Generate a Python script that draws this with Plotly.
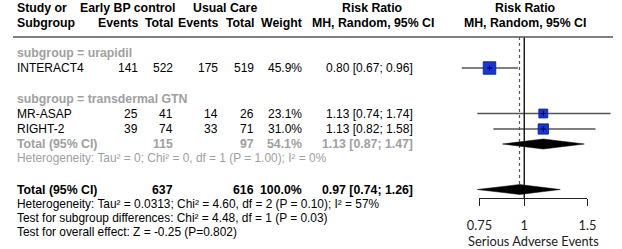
import math
import plotly.graph_objects as go

# ---------------- data ----------------
studies = ["INTERACT4", "MR-ASAP", "RIGHT-2"]
subgroups = ["urapidil", "transdermal GTN", "transdermal GTN"]
e_events = [141, 25, 39]
e_total = [522, 41, 74]
c_events = [175, 14, 33]
c_total = [519, 26, 71]
weight = [45.9, 23.1, 31.0]
rr = [0.80, 1.13, 1.13]
rr_lo = [0.67, 0.74, 0.82]
rr_hi = [0.96, 1.74, 1.58]

sub_name = "transdermal GTN"
sub_e_total = 115
sub_c_total = 97
sub_weight = 54.1
sub_rr = [1.13, 0.87, 1.47]
sub_het = "Heterogeneity: Tau² = 0; Chi² = 0, df = 1 (P = 1.00); I² = 0%"

tot_e_total = 637
tot_c_total = 616
tot_weight = 100.0
tot_rr = [0.97, 0.74, 1.26]
tot_het = "Heterogeneity: Tau² = 0.0313; Chi² = 4.60, df = 2 (P = 0.10); I² = 57%"
test_sub = "Test for subgroup differences: Chi² = 4.48, df = 1 (P = 0.03)"
test_all = "Test for overall effect: Z = -0.25 (P=0.802)"

tick_vals = [0.75, 1, 1.5]
tick_text = ["0.75", "1", "1.5"]
axis_title = "Serious Adverse Events"

# ---------------- layout (pixel rows) ----------------
W, H = 622, 249
ROW = {"h1": 8, "h2": 23, "rule": 37, "sg1": 53, "s0": 68, "sg2": 98.5,
       "s1": 113.5, "s2": 129, "subtot": 144, "subhet": 158,
       "tot": 189.5, "het": 204, "tsub": 218, "tall": 232}
study_rows = [ROW["s0"], ROW["s1"], ROW["s2"]]
AXIS_Y = 198
PX_PER_LN = 161.5
X_ONE = 530

FONT = "Liberation Sans, Arial, sans-serif"
FS = 12.0
FSB = 12.3
FSS = 11.9
AXFONT = "Lato, Open Sans, sans-serif"
GRAY = "#a0a0a0"
BLACK = "#000000"

fig = go.Figure()

# CI lines
for r, lo, hi in zip(study_rows, rr_lo, rr_hi):
    fig.add_trace(go.Scatter(x=[lo, hi], y=[r, r], mode="lines",
                             line=dict(color="#555555", width=1.4),
                             hoverinfo="skip", showlegend=False))

# reference lines
fig.add_trace(go.Scatter(x=[1, 1], y=[ROW["rule"], AXIS_Y], mode="lines",
                         line=dict(color="#111111", width=1.4),
                         hoverinfo="skip", showlegend=False))
fig.add_trace(go.Scatter(x=[tot_rr[0], tot_rr[0]], y=[ROW["rule"], AXIS_Y - 4], mode="lines",
                         line=dict(color="#555555", width=1.2, dash="dot"),
                         hoverinfo="skip", showlegend=False))

# squares
fig.add_trace(go.Scatter(x=rr, y=study_rows, mode="markers",
                         marker=dict(symbol="square", size=[1.85 * math.sqrt(w) for w in weight],
                                     color="#1535dc", opacity=1,
                                     line=dict(color="#0a1a70", width=0.8)),
                         hoverinfo="skip", showlegend=False))
fig.add_trace(go.Scatter(x=rr, y=study_rows, mode="markers",
                         marker=dict(symbol="cross-thin", size=4, opacity=1,
                                     line=dict(color="#000033", width=1)),
                         hoverinfo="skip", showlegend=False))

# diamonds
def diamond(est, lo, hi, y, hh=5):
    fig.add_trace(go.Scatter(x=[lo, est, hi, est, lo], y=[y, y - hh, y, y + hh, y],
                             mode="lines", fill="toself", fillcolor="#000000",
                             line=dict(color="#000000", width=0.5),
                             hoverinfo="skip", showlegend=False))

diamond(sub_rr[0], sub_rr[1], sub_rr[2], ROW["subtot"])
diamond(tot_rr[0], tot_rr[1], tot_rr[2], ROW["tot"])

# invisible trace on the bottom scale axis (own subplot x3/y2)
fig.add_trace(go.Scatter(x=[tick_vals[0], tick_vals[-1]], y=[0, 0], xaxis="x3", yaxis="y2",
                         mode="markers", marker=dict(opacity=0), hoverinfo="skip",
                         showlegend=False))

# rule
fig.add_shape(type="line", xref="paper", yref="y", x0=0, x1=1, y0=ROW["rule"], y1=ROW["rule"],
              line=dict(color="#555555", width=1.4))

ann = []
def txt(x, y, s, align="left", color=BLACK, bold=False, size=None, family=FONT):
    if size is None:
        size = FSB if bold else FS
    if bold:
        s = "<b>" + s + "</b>"
    ann.append(dict(x=x / W, y=y, xref="paper", yref="y", text=s, showarrow=False,
                    xanchor=align, yanchor="middle", align=align,
                    font=dict(family=family, size=size, color=color)))

# headers
txt(2, ROW["h1"], "Study or", bold=True)
txt(2, ROW["h2"], "Subgroup", bold=True)
txt(119, ROW["h1"], "Early BP control", "center", bold=True)
txt(220, ROW["h1"], "Usual Care", "center", bold=True)
txt(132, ROW["h2"], "Events", "right", bold=True)
txt(168, ROW["h2"], "Total", "right", bold=True)
txt(215, ROW["h2"], "Events", "right", bold=True)
txt(252, ROW["h2"], "Total", "right", bold=True)
txt(302, ROW["h2"], "Weight", "right", bold=True)
txt(373, ROW["h1"], "Risk Ratio", "center", bold=True)
txt(373, ROW["h2"], "MH, Random, 95% CI", "center", bold=True)
txt(531, ROW["h1"], "Risk Ratio", "center", bold=True)
txt(531, ROW["h2"], "MH, Random, 95% CI", "center", bold=True)

# subgroup labels
txt(2, ROW["sg1"], "subgroup = " + subgroups[0], color=GRAY, bold=True)
txt(2, ROW["sg2"], "subgroup = " + sub_name, color=GRAY, bold=True)

# studies
for i, r in enumerate(study_rows):
    txt(2, r, studies[i])
    txt(132, r, str(e_events[i]), "right")
    txt(168, r, str(e_total[i]), "right")
    txt(215, r, str(c_events[i]), "right")
    txt(252, r, str(c_total[i]), "right")
    txt(302, r, f"{weight[i]:.1f}%", "right")
    txt(417, r, f"{rr[i]:.2f} [{rr_lo[i]:.2f}; {rr_hi[i]:.2f}]", "right")

# subgroup total
r = ROW["subtot"]
txt(2, r, "Total (95% CI)", color=GRAY, bold=True)
txt(168, r, str(sub_e_total), "right", color=GRAY, bold=True)
txt(252, r, str(sub_c_total), "right", color=GRAY, bold=True)
txt(302, r, f"{sub_weight:.1f}%", "right", color=GRAY, bold=True)
txt(417, r, f"{sub_rr[0]:.2f} [{sub_rr[1]:.2f}; {sub_rr[2]:.2f}]", "right", color=GRAY, bold=True)
txt(2, ROW["subhet"], sub_het, color=GRAY, size=FSS)

# overall
r = ROW["tot"]
txt(2, r, "Total (95% CI)", bold=True)
txt(168, r, str(tot_e_total), "right", bold=True)
txt(252, r, str(tot_c_total), "right", bold=True)
txt(302, r, f"{tot_weight:.1f}%", "right", bold=True)
txt(417, r, f"{tot_rr[0]:.2f} [{tot_rr[1]:.2f}; {tot_rr[2]:.2f}]", "right", bold=True)
txt(2, ROW["het"], tot_het, size=FSS)
txt(2, ROW["tsub"], test_sub, size=FSS)
txt(2, ROW["tall"], test_all, size=FSS)

lo_px = X_ONE + PX_PER_LN * math.log(tick_vals[0])
hi_px = X_ONE + PX_PER_LN * math.log(tick_vals[-1])
x_left_log10 = -X_ONE / (PX_PER_LN * math.log(10))
x_right_log10 = (W - X_ONE) / (PX_PER_LN * math.log(10))
axis_pos = 1 - AXIS_Y / H

fig.update_layout(
    width=W, height=H, margin=dict(l=0, r=0, t=0, b=0),
    paper_bgcolor="white", plot_bgcolor="rgba(0,0,0,0)",
    annotations=ann,
    xaxis=dict(type="log", range=[x_left_log10, x_right_log10], domain=[0, 1],
               visible=False, fixedrange=True),
    yaxis=dict(range=[H, 0], domain=[0, 1], visible=False, fixedrange=True),
    yaxis2=dict(domain=[axis_pos, axis_pos + 0.05], anchor="x3", visible=False,
                range=[0, 1], fixedrange=True),
    xaxis3=dict(type="log", range=[math.log10(tick_vals[0]), math.log10(tick_vals[-1])],
                domain=[lo_px / W, hi_px / W], anchor="y2",
                showline=True, linecolor="#222222", linewidth=1.4,
                ticks="outside", ticklen=7, tickwidth=1.4, tickcolor="#222222",
                tickvals=tick_vals, ticktext=tick_text, showgrid=False, zeroline=False,
                ticklabelstandoff=8,
                tickfont=dict(family=AXFONT, size=12.8, color="#222222"),
                title=dict(text=axis_title, standoff=6,
                           font=dict(family=AXFONT, size=12.8, color="#222222")),
                fixedrange=True),
)

fig.write_html("out.html")
